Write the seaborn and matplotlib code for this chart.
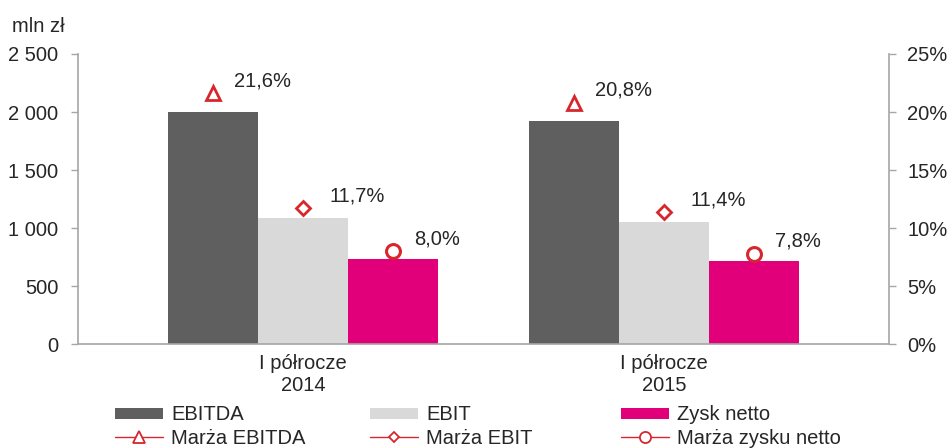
"""
Wyniki I półrocza 2014 i 2015: EBITDA, EBIT, zysk netto oraz marże.
"""

import numpy as np
import pandas as pd
import matplotlib
matplotlib.use("Agg")
import matplotlib.pyplot as plt
import seaborn as sns
from matplotlib.lines import Line2D
from matplotlib.patches import Patch
from matplotlib.ticker import FuncFormatter, MultipleLocator

# data
okresy = ["I półrocze\n2014", "I półrocze\n2015"]
kategorie = ["EBITDA", "EBIT", "Zysk netto"]
ebitda = [2000, 1922]
ebit = [1086, 1052]
zysk_netto = [733, 716]
marza_ebitda = [21.6, 20.8]
marza_ebit = [11.7, 11.4]
marza_zysku = [8.0, 7.8]
marze_nazwy = ["Marża EBITDA", "Marża EBIT", "Marża zysku netto"]

kolory = ["#5f5f5f", "#d9d9d9", "#e2007a"]
czerwony = "#d7262d"
szary = "#a6a6a6"
tekst = "#262626"
fs = 14.5

sns.set_theme(style="white")
plt.rcParams["font.family"] = ["Liberation Sans", "DejaVu Sans"]
plt.rcParams["font.size"] = fs

df = pd.DataFrame({
    "okres": okresy * 3,
    "kategoria": np.repeat(kategorie, 2),
    "wartosc": ebitda + ebit + zysk_netto,
})

fig = plt.figure(figsize=(9.48, 4.48), dpi=100)
ax = fig.add_axes([0.0823, 0.232, 0.8555, 0.6475])

sns.barplot(data=df, x="okres", y="wartosc", hue="kategoria",
            order=okresy, hue_order=kategorie, palette=kolory,
            width=0.75, gap=0, saturation=1, linewidth=0, ax=ax, legend=False)

ax.set_xlim(-0.623, 1.623)
ax.set_ylim(0, 2500)
ax.yaxis.set_major_locator(MultipleLocator(500))
ax.yaxis.set_major_formatter(FuncFormatter(lambda v, p: f"{int(v):,}".replace(",", " ")))
ax.set_xlabel("")
ax.set_ylabel("")
ax.tick_params(axis="x", length=0, labelsize=fs, labelcolor=tekst, pad=7)
ax.tick_params(axis="y", left=True, length=5, width=1, color=szary,
               labelsize=fs, labelcolor=tekst, pad=9)
for s in ["top", "right"]:
    ax.spines[s].set_visible(False)
for s in ["left", "bottom"]:
    ax.spines[s].set_color(szary)
    ax.spines[s].set_linewidth(1.2)

# marże na prawej osi, w środkach słupków
ax2 = ax.twinx()
ax2.set_ylim(0, 25)
ax2.yaxis.set_major_locator(MultipleLocator(5))
ax2.yaxis.set_major_formatter(FuncFormatter(lambda v, p: f"{int(v)}%"))
ax2.tick_params(axis="y", right=True, length=5, width=1, color=szary,
                labelsize=fs, labelcolor=tekst, pad=8)
for s in ["top", "left", "bottom"]:
    ax2.spines[s].set_visible(False)
ax2.spines["right"].set_color(szary)
ax2.spines["right"].set_linewidth(1.2)
ax2.grid(False)

bary = sorted([p for p in ax.patches if p.get_width() > 0], key=lambda p: p.get_x())
# grupy: [2014: EBITDA, EBIT, Zysk], [2015: ...]
x_c = np.array([p.get_x() + p.get_width() / 2 for p in bary]).reshape(2, 3)

znaczniki = [("^", 10, 2.0), ("D", 7, 2.0), ("o", 10, 2.2)]
przesuniecia = [15, 19, 15]
for i, (marza, (m, ms, mw)) in enumerate(zip([marza_ebitda, marza_ebit, marza_zysku], znaczniki)):
    xs = x_c[:, i]
    ax2.plot(xs, marza, linestyle="none", marker=m, markersize=ms,
             markerfacecolor="white", markeredgecolor=czerwony, markeredgewidth=mw)
    for x, v in zip(xs, marza):
        ax2.annotate(f"{v:.1f}%".replace(".", ","), (x, v), xytext=(przesuniecia[i], 2),
                     textcoords="offset points", fontsize=fs, color=tekst,
                     va="bottom", ha="left")

fig.text(0.013, 0.94, "mln zł", fontsize=fs, color=tekst, ha="left", va="center")

# legenda: trzy kolumny po dwa wpisy
kolumny_x = [0.121, 0.390, 0.655]
for i in range(3):
    uchwyty = [
        Patch(facecolor=kolory[i], edgecolor="none"),
        Line2D([0], [0], color=czerwony, lw=1, marker=znaczniki[i][0],
               markersize=znaczniki[i][1] * 0.8, markerfacecolor="white",
               markeredgecolor=czerwony, markeredgewidth=1.3),
    ]
    fig.legend(uchwyty, [kategorie[i], marze_nazwy[i]], loc="upper left",
               bbox_to_anchor=(kolumny_x[i], 0.095), frameon=False,
               borderpad=0, borderaxespad=0, handlelength=2.4, handleheight=0.5,
               handletextpad=0.4, labelspacing=0.22, fontsize=fs,
               labelcolor=tekst)

fig.savefig("out.png", dpi=100, facecolor="white")
